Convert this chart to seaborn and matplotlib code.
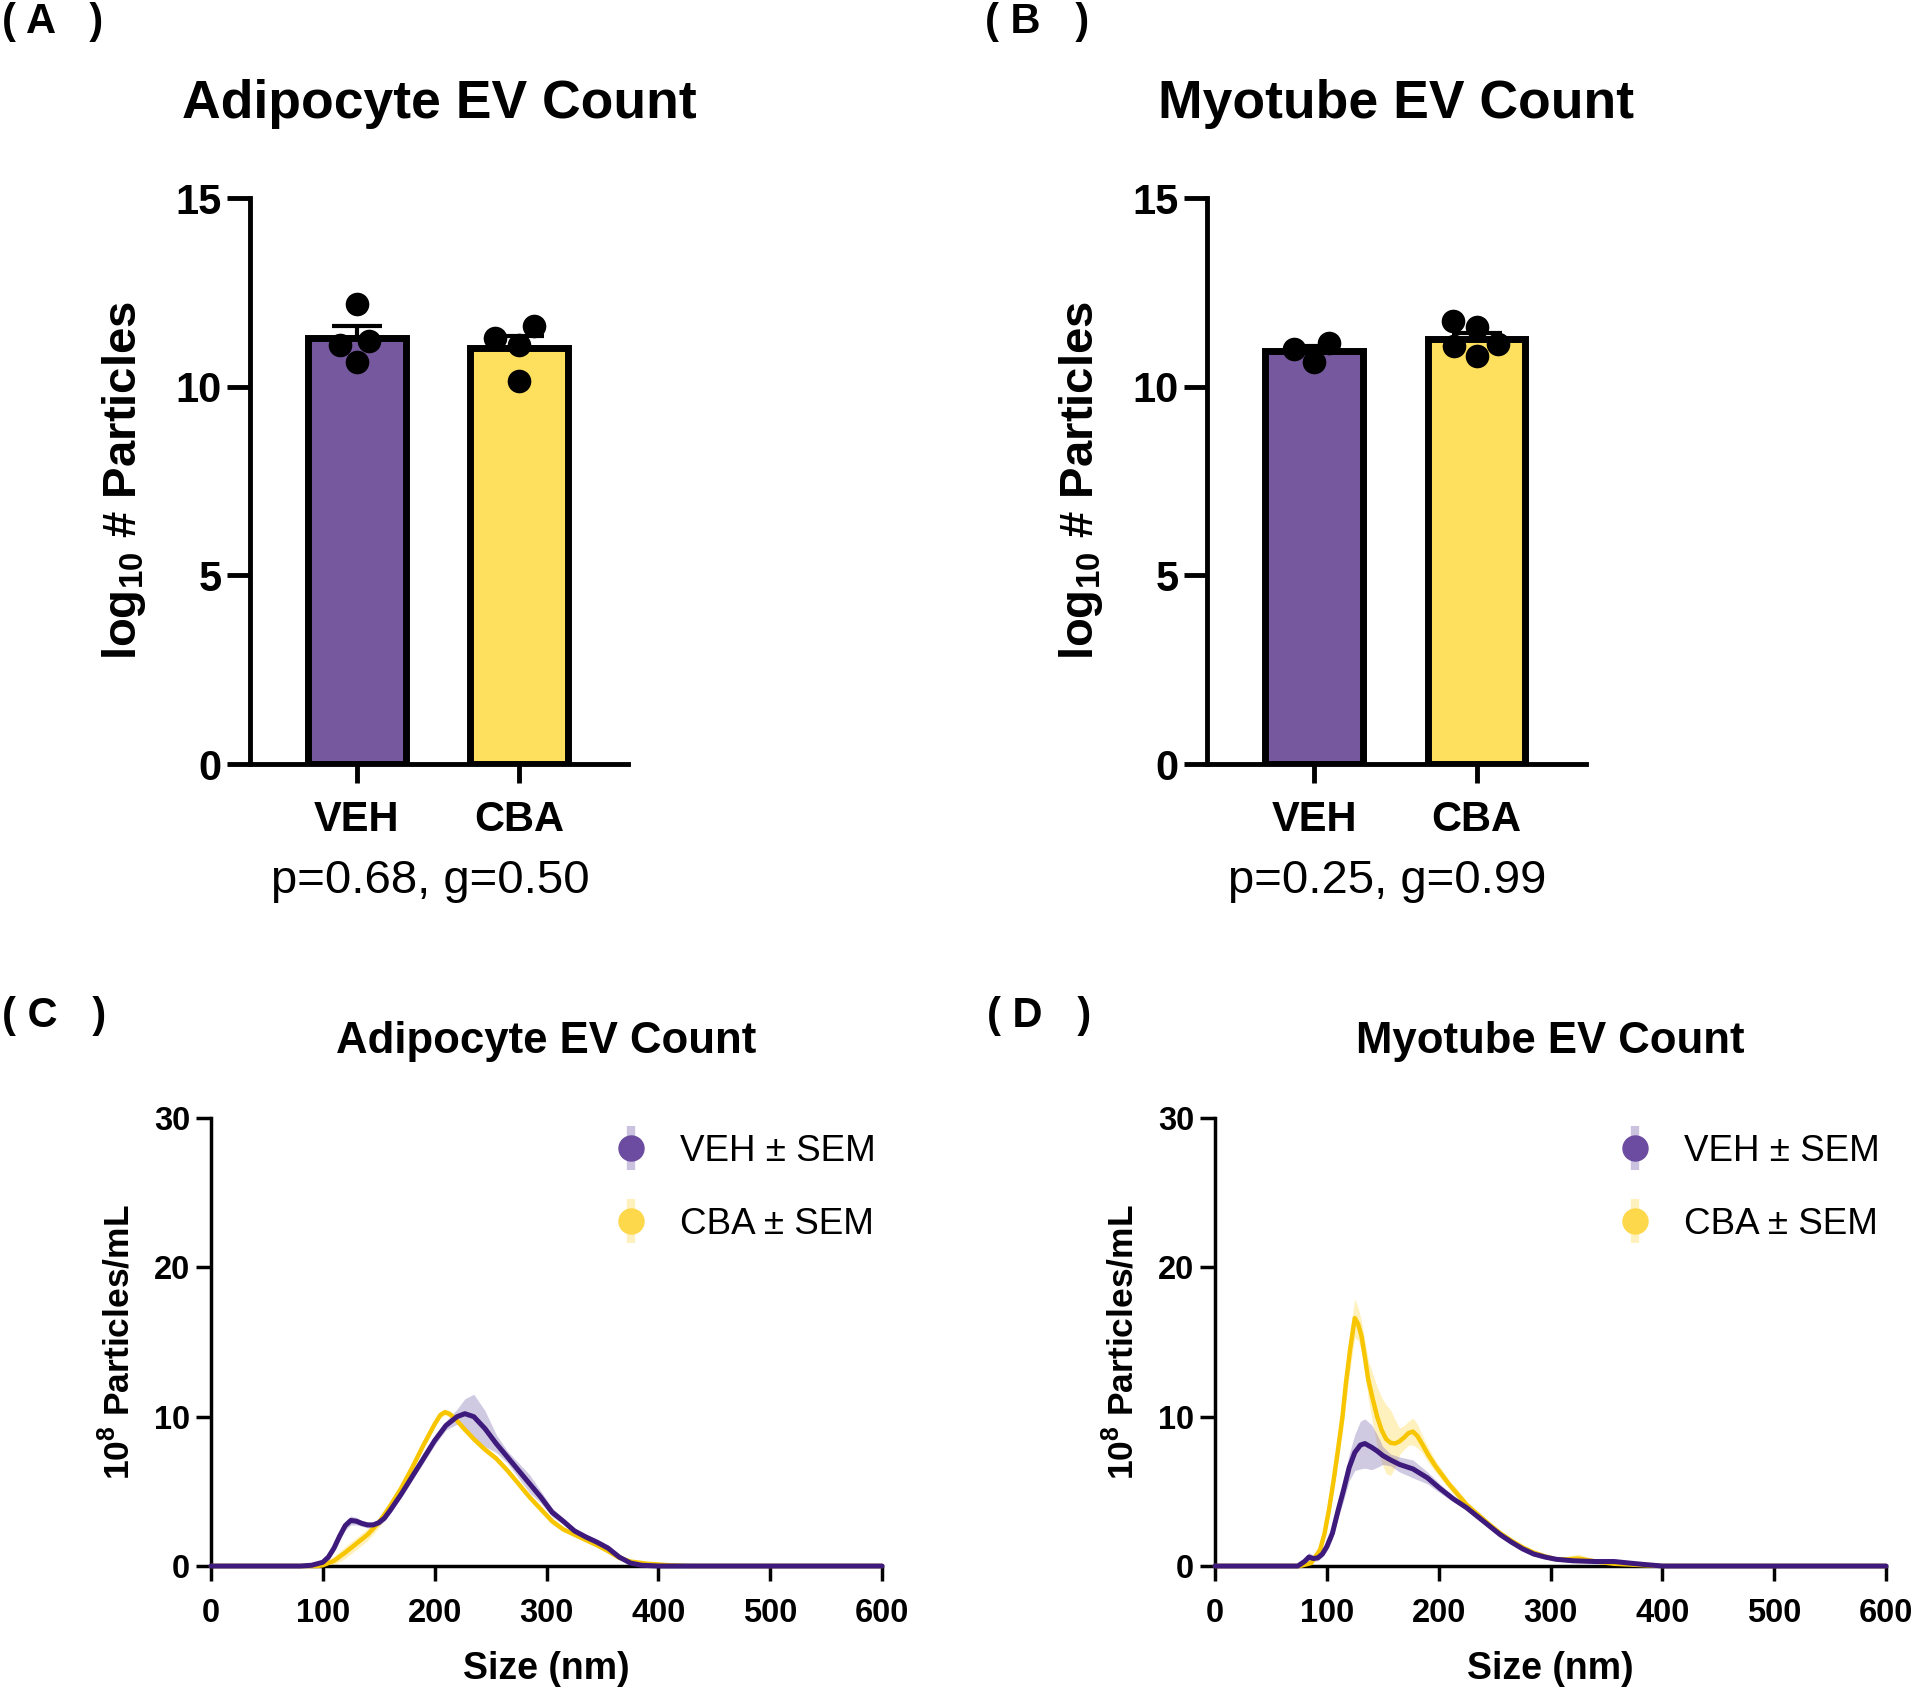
import numpy as np
import pandas as pd
import matplotlib
matplotlib.use("Agg")
import matplotlib.pyplot as plt
from matplotlib.lines import Line2D
from matplotlib.legend_handler import HandlerTuple
import seaborn as sns

sns.set_style("ticks")
plt.rcParams["font.family"] = ["Liberation Sans", "DejaVu Sans"]
plt.rcParams["font.weight"] = "bold"
plt.rcParams["mathtext.fontset"] = "custom"
plt.rcParams["mathtext.rm"] = "Liberation Sans"
plt.rcParams["mathtext.bf"] = "Liberation Sans:bold"
for key in ["text.color", "axes.labelcolor", "xtick.color", "ytick.color", "axes.edgecolor"]:
    plt.rcParams[key] = "black"

# ── Data: log10 particle counts per replicate ─────────────────
groups = ["VEH", "CBA"]
adipo_veh = [12.2, 11.2, 10.65, 11.1]
adipo_cba = [11.6, 11.1, 10.15, 11.28]
myo_veh = [10.65, 11.15, 11.0]
myo_cba = [11.58, 11.73, 10.82, 11.07, 11.13]
adipo_stats = "p=0.68, g=0.50"
myo_stats = "p=0.25, g=0.99"

# ── Data: size distributions (10^8 particles/mL), mean and SEM ──
adipo_veh_size = [0, 80, 90, 100, 105, 110, 115, 120, 125, 130, 135, 140, 145, 150, 155, 160, 170, 180, 190, 200,
                  210, 220, 227, 235, 245, 255, 265, 275, 285, 295, 305, 315, 325, 335, 345, 355, 365, 375, 385, 400, 600]
adipo_veh_mean = [0, 0, 0.05, 0.25, 0.6, 1.2, 2.0, 2.7, 3.05, 3.0, 2.85, 2.75, 2.75, 2.9, 3.2, 3.7, 4.8, 6.0, 7.2, 8.4,
                  9.4, 10.0, 10.2, 10.0, 9.2, 8.2, 7.3, 6.4, 5.5, 4.6, 3.6, 3.0, 2.35, 1.95, 1.6, 1.2, 0.6, 0.2, 0.05, 0, 0]
adipo_veh_sem = [0, 0, 0.05, 0.1, 0.2, 0.25, 0.3, 0.3, 0.3, 0.25, 0.2, 0.2, 0.2, 0.2, 0.2, 0.2, 0.2, 0.25, 0.3, 0.3,
                 0.3, 0.5, 1.0, 1.5, 1.2, 0.6, 0.4, 0.5, 0.6, 0.4, 0.3, 0.2, 0.2, 0.2, 0.2, 0.2, 0.15, 0.1, 0.05, 0, 0]

adipo_cba_size = [0, 95, 100, 110, 120, 130, 140, 150, 160, 170, 180, 190, 200, 205, 209, 213, 218, 225, 235, 245,
                  255, 265, 275, 285, 295, 305, 315, 325, 335, 345, 355, 365, 375, 390, 410, 430, 600]
adipo_cba_mean = [0, 0, 0.05, 0.35, 0.9, 1.5, 2.1, 2.9, 4.0, 5.2, 6.6, 8.1, 9.5, 10.1, 10.3, 10.2, 9.9, 9.3, 8.5, 7.8,
                  7.2, 6.4, 5.5, 4.6, 3.8, 3.0, 2.45, 2.1, 1.75, 1.4, 1.0, 0.55, 0.3, 0.15, 0.05, 0, 0]
adipo_cba_sem = [0, 0, 0.05, 0.3, 0.4, 0.4, 0.4, 0.35, 0.3, 0.25, 0.2, 0.2, 0.2, 0.2, 0.2, 0.2, 0.2, 0.2, 0.2, 0.2,
                 0.2, 0.2, 0.2, 0.2, 0.2, 0.2, 0.15, 0.15, 0.15, 0.15, 0.1, 0.1, 0.1, 0.05, 0.05, 0, 0]

myo_veh_size = [0, 74, 80, 84, 88, 92, 96, 100, 105, 110, 115, 120, 125, 130, 134, 140, 145, 150, 157, 165,
                177, 190, 201, 213, 225, 235, 245, 255, 265, 275, 285, 295, 305, 320, 340, 357, 370, 384, 400, 600]
myo_veh_mean = [0, 0, 0.3, 0.6, 0.5, 0.55, 0.8, 1.3, 2.2, 3.7, 5.1, 6.6, 7.6, 8.1, 8.2, 7.95, 7.7, 7.4, 7.1, 6.8,
                6.5, 5.9, 5.2, 4.5, 3.9, 3.3, 2.7, 2.1, 1.6, 1.15, 0.8, 0.6, 0.45, 0.35, 0.3, 0.3, 0.2, 0.1, 0, 0]
myo_veh_sem = [0, 0, 0.2, 0.3, 0.2, 0.2, 0.2, 0.3, 0.4, 0.5, 0.7, 0.9, 1.2, 1.6, 1.65, 1.5, 1.1, 0.6, 0.4, 0.5,
               0.6, 0.4, 0.3, 0.2, 0.15, 0.15, 0.15, 0.15, 0.1, 0.1, 0.1, 0.1, 0.1, 0.1, 0.1, 0.1, 0.1, 0.05, 0, 0]

myo_cba_size = [0, 76, 86, 94, 98, 102, 106, 110, 114, 117, 121, 125, 128, 131, 134, 137, 141, 145, 149, 153,
                157, 161, 165, 169, 173, 177, 181, 185, 191, 197, 203, 209, 217, 225, 235, 245, 255, 265, 275, 285,
                295, 305, 315, 325, 333, 345, 357, 370, 384, 400, 600]
myo_cba_mean = [0, 0, 0.2, 1.1, 2.2, 3.8, 5.7, 7.8, 10.0, 12.2, 14.6, 16.6, 16.2, 15.4, 14.0, 12.5, 11.2, 10.0, 9.1, 8.5,
                8.25, 8.2, 8.35, 8.6, 8.9, 9.0, 8.7, 8.2, 7.4, 6.7, 6.1, 5.5, 4.8, 4.1, 3.45, 2.8, 2.2, 1.7, 1.25, 0.9,
                0.65, 0.45, 0.45, 0.5, 0.4, 0.25, 0.15, 0.1, 0.05, 0, 0]
myo_cba_sem = [0, 0, 0.1, 0.3, 0.4, 0.5, 0.6, 0.8, 1.0, 1.2, 1.3, 1.3, 1.1, 1.0, 1.1, 1.3, 1.7, 2.0, 2.2, 2.3,
               2.2, 1.6, 0.9, 0.8, 0.8, 0.9, 0.8, 0.6, 0.5, 0.4, 0.35, 0.3, 0.3, 0.25, 0.2, 0.2, 0.2, 0.15, 0.15, 0.1,
               0.1, 0.1, 0.2, 0.3, 0.2, 0.1, 0.1, 0.05, 0.05, 0, 0]

# ── Colours ──────────────────────────────────────────────────
PURPLE_BAR = "#76589E"
YELLOW_BAR = "#FFDF5E"
PURPLE_LINE = "#3E1A7C"
YELLOW_LINE = "#F7C600"
PURPLE_BAND = "#8A78B8"
YELLOW_BAND = "#FFE170"
PURPLE_DOT = "#6B4CA0"
YELLOW_DOT = "#FDD84A"

W, H = 1920, 1692
fig = plt.figure(figsize=(W / 100, H / 100), dpi=100)


def px_axes(left, right, top, bottom):
    return fig.add_axes([left / W, 1 - bottom / H, (right - left) / W, (bottom - top) / H])


def bar_panel(ax, veh, cba, title, stats):
    df = pd.DataFrame({"group": ["VEH"] * len(veh) + ["CBA"] * len(cba),
                       "value": veh + cba})
    sns.barplot(data=df, x="group", y="value", hue="group", order=groups, hue_order=groups,
                palette=[PURPLE_BAR, YELLOW_BAR], saturation=1, errorbar=None, width=0.6,
                edgecolor="black", linewidth=5, legend=False, ax=ax)
    ax.set_xlim(-0.66, 1.673)
    ax.set_ylim(0, 15)
    means = df.groupby("group")["value"].mean().reindex(groups).values
    sems = df.groupby("group")["value"].sem().reindex(groups).values
    ax.errorbar([0, 1], means, yerr=[np.zeros(2), sems], fmt="none", ecolor="black",
                elinewidth=3, capsize=18, capthick=3, zorder=3)
    sns.swarmplot(data=df, x="group", y="value", order=groups, color="black",
                  size=17, ax=ax, zorder=4)
    ax.set_xlim(-0.66, 1.673)
    ax.set_ylim(0, 15)
    ax.set_yticks([0, 5, 10, 15])
    sns.despine(ax=ax)
    for sp in ["left", "bottom"]:
        ax.spines[sp].set_linewidth(3.5)
    ax.tick_params(axis="y", length=16.5, width=3.5, labelsize=30, pad=4)
    ax.tick_params(axis="x", length=14, width=3.5, labelsize=30, pad=12)
    ax.set_xlabel("")
    ax.set_ylabel(r"log$_\mathbf{10}$ # Particles", fontsize=34, fontweight="bold")
    ax.yaxis.set_label_coords(-0.27, 0.5)
    ax.text(0.5, 1 + (198 - 104) / 566, title, transform=ax.transAxes,
            ha="center", va="center", fontsize=38.5, fontweight="bold")
    ax.text(0.45, -0.206, stats, transform=ax.get_xaxis_transform(),
            ha="center", va="center", fontsize=34, fontweight="normal")


def curve_panel(ax, series, title):
    for size, mean, sem, line_c, band_c, band_a, lw in series:
        m = np.array(mean)
        s = np.array(sem)
        ax.fill_between(size, np.clip(m - s, 0, None), m + s, color=band_c,
                        alpha=band_a, lw=0, zorder=2)
        sns.lineplot(x=size, y=mean, color=line_c, lw=lw, ax=ax, zorder=3,
                     clip_on=False, solid_joinstyle="round", solid_capstyle="round")
    ax.set_xlim(0, 600)
    ax.set_ylim(0, 30)
    ax.set_xticks(range(0, 601, 100))
    ax.set_yticks([0, 10, 20, 30])
    sns.despine(ax=ax)
    for sp in ["left", "bottom"]:
        ax.spines[sp].set_linewidth(2.5)
    ax.tick_params(axis="both", length=11, width=2.5, labelsize=23.5)
    ax.tick_params(axis="x", pad=12)
    ax.tick_params(axis="y", pad=4)
    ax.set_xlabel("Size (nm)", fontsize=27, fontweight="bold")
    ax.xaxis.set_label_coords(0.5, -0.19)
    ax.set_ylabel(r"10$^\mathbf{8}$ Particles/mL", fontsize=25.5, fontweight="bold")
    ax.yaxis.set_label_coords(-0.112, 0.5)
    ax.text(0.5, 1 + (1118 - 1042) / 448, title, transform=ax.transAxes,
            ha="center", va="center", fontsize=31.5, fontweight="bold")

    handles = []
    for dot_c, band_c in [(PURPLE_DOT, PURPLE_BAND), (YELLOW_DOT, YELLOW_BAND)]:
        bar = Line2D([], [], linestyle="none", marker="|", markersize=31,
                     markeredgewidth=6, color=band_c, alpha=0.45)
        dot = Line2D([], [], linestyle="none", marker="o", markersize=18, color=dot_c)
        handles.append((bar, dot))
    ax.legend(handles, ["VEH \u00b1 SEM", "CBA \u00b1 SEM"],
              handler_map={tuple: HandlerTuple(ndivide=1)},
              loc="upper left", bbox_to_anchor=(0.6, 0.965), frameon=False,
              prop={"size": 26.5, "weight": "normal"}, handlelength=0.95,
              handletextpad=0.85, labelspacing=1.05, borderpad=0, borderaxespad=0)


axA = px_axes(250, 628, 198, 764)
axB = px_axes(1207, 1586, 198, 764)
axC = px_axes(211, 882, 1118, 1566)
axD = px_axes(1215, 1886, 1118, 1566)

bar_panel(axA, adipo_veh, adipo_cba, "Adipocyte EV Count", adipo_stats)
bar_panel(axB, myo_veh, myo_cba, "Myotube EV Count", myo_stats)

curve_panel(axC, [
    (adipo_cba_size, adipo_cba_mean, adipo_cba_sem, YELLOW_LINE, YELLOW_BAND, 0.45, 3.2),
    (adipo_veh_size, adipo_veh_mean, adipo_veh_sem, PURPLE_LINE, PURPLE_BAND, 0.4, 3.6),
], "Adipocyte EV Count")
curve_panel(axD, [
    (myo_cba_size, myo_cba_mean, myo_cba_sem, YELLOW_LINE, YELLOW_BAND, 0.45, 3.2),
    (myo_veh_size, myo_veh_mean, myo_veh_sem, PURPLE_LINE, PURPLE_BAND, 0.4, 3.6),
], "Myotube EV Count")

for label, x, y in [("( A   )", 2, 22), ("( B   )", 985, 22), ("( C   )", 2, 1016), ("( D   )", 987, 1016)]:
    fig.text(x / W, 1 - y / H, label, ha="left", va="center", fontsize=30, fontweight="bold")

fig.savefig("out.png", dpi=100)
